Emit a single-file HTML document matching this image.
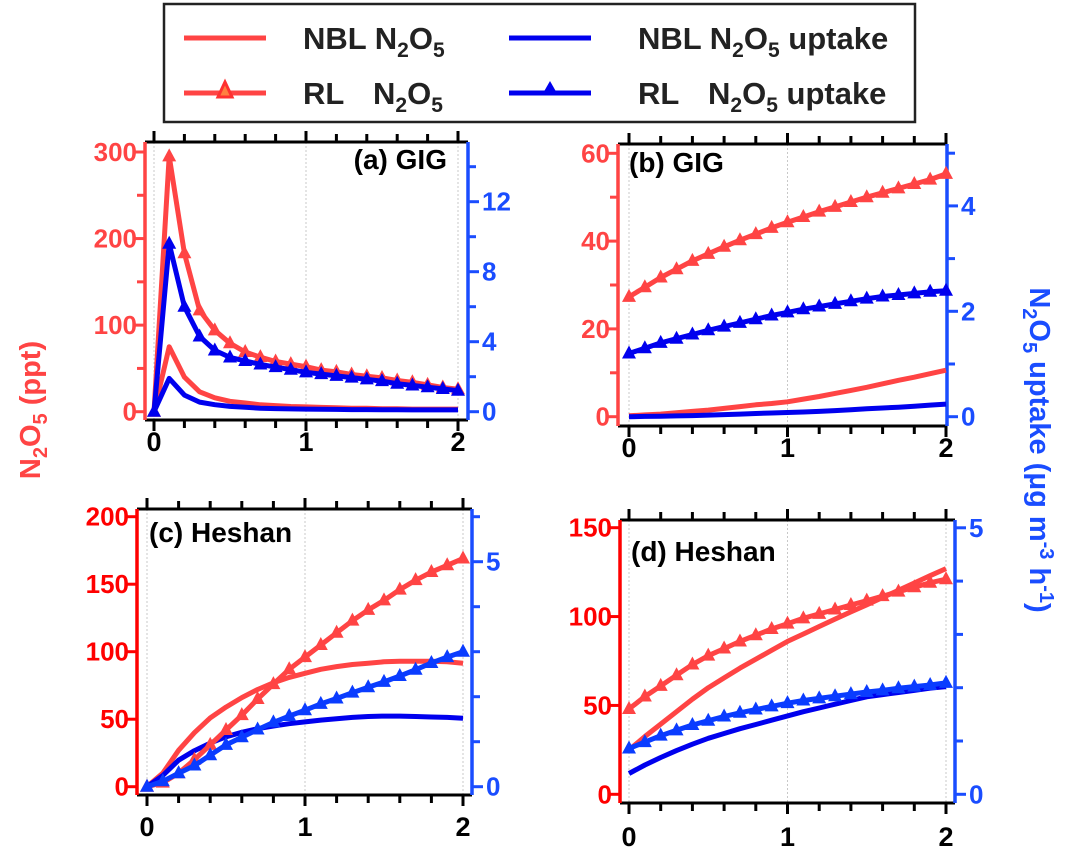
<!DOCTYPE html>
<html><head><meta charset="utf-8"><style>
html,body{margin:0;padding:0;background:#fff;}
svg{display:block;font-family:"Liberation Sans",Arial,sans-serif;font-weight:bold;}
</style></head><body>
<svg id="chart" width="1066" height="865" viewBox="0 0 1066 865" xmlns="http://www.w3.org/2000/svg">
<g>
  <rect x="164" y="4" width="751" height="118" fill="#fff" stroke="#222" stroke-width="2.5"/>
  <line x1="184" y1="38" x2="266" y2="38" stroke="#ff4444" stroke-width="5"/>
  <text x="303" y="49" font-size="31" fill="#222">NBL N<tspan font-size="21" dy="8">2</tspan><tspan dy="-8">O</tspan><tspan font-size="21" dy="8">5</tspan></text>
  <line x1="184" y1="93" x2="266" y2="93" stroke="#ff4444" stroke-width="5"/>
  <polygon points="225,82 218,97 232,97" fill="#ff8040" stroke="#ff3030" stroke-width="3"/>
  <text x="303" y="104" font-size="31" fill="#222">RL<tspan x="373">N</tspan><tspan font-size="21" dy="8">2</tspan><tspan dy="-8">O</tspan><tspan font-size="21" dy="8">5</tspan></text>
  <line x1="509" y1="38" x2="591" y2="38" stroke="#0000ee" stroke-width="5"/>
  <text x="638" y="49" font-size="31" fill="#222">NBL N<tspan font-size="21" dy="8">2</tspan><tspan dy="-8">O</tspan><tspan font-size="21" dy="8">5</tspan><tspan dy="-8"> uptake</tspan></text>
  <line x1="509" y1="93" x2="591" y2="93" stroke="#0000ee" stroke-width="5"/>
  <polygon points="550,81 542,95 558,95" fill="#0000ee"/>
  <text x="638" y="104" font-size="31" fill="#222">RL<tspan x="708">N</tspan><tspan font-size="21" dy="8">2</tspan><tspan dy="-8">O</tspan><tspan font-size="21" dy="8">5</tspan><tspan dy="-8"> uptake</tspan></text>
</g>
<text transform="translate(40,410) rotate(-90)" text-anchor="middle" font-size="29" fill="#ff4444">N<tspan font-size="20" dy="7">2</tspan><tspan dy="-7">O</tspan><tspan font-size="20" dy="7">5</tspan><tspan dy="-7"> (ppt)</tspan></text>
<text transform="translate(1030,450) rotate(90)" text-anchor="middle" font-size="29" fill="#1a4dff">N<tspan font-size="20" dy="7">2</tspan><tspan dy="-7">O</tspan><tspan font-size="20" dy="7">5</tspan><tspan dy="-7"> uptake (μg m</tspan><tspan font-size="20" dy="-10">-3</tspan><tspan dy="10"> h</tspan><tspan font-size="20" dy="-10">-1</tspan><tspan dy="10">)</tspan></text>
</svg>
<script>
const xs = [0,0.1,0.2,0.3,0.4,0.5,0.6,0.7,0.8,0.9,1.0,1.1,1.2,1.3,1.4,1.5,1.6,1.7,1.8,1.9,2.0];
const xTickLabels = ["0","1","2"];
// Panel a (GIG)
const aRedRL = [0,295,183,117,94,79,69,63,58,55,52,48,46,43,41,39,36,34,31,28,26];
const aBlueRL = [0,9.6,6.0,4.3,3.5,3.1,2.9,2.7,2.55,2.4,2.25,2.15,2.05,1.95,1.85,1.75,1.6,1.5,1.4,1.3,1.2];
const aRedNBL = [0,75,40,23,16,12,10,8,7,6,5.5,5,4.5,4,4,3.5,3.5,3,3,3,3];
const aBlueNBL = [0,1.9,0.95,0.55,0.4,0.3,0.25,0.2,0.18,0.16,0.15,0.14,0.13,0.12,0.12,0.11,0.11,0.1,0.1,0.1,0.1];
const aLeftTicks = [0,100,200,300];
const aRightTicks = [0,4,8,12];
// Panel b (GIG)
const bRedRL = [27.3,29.5,31.7,33.6,35.5,37.1,38.7,40.2,41.6,43,44.3,45.5,46.7,47.8,48.9,50,51,52,53,54,55.3];
const bBlueRL = [1.2,1.3,1.4,1.48,1.56,1.64,1.71,1.78,1.85,1.92,1.98,2.04,2.09,2.14,2.19,2.24,2.28,2.31,2.34,2.37,2.39];
const bRedNBL = [0.2,0.4,0.6,0.9,1.2,1.5,1.9,2.3,2.7,3.0,3.4,4,4.6,5.3,6,6.7,7.5,8.3,9,9.8,10.6];
const bBlueNBL = [0,0.005,0.01,0.015,0.02,0.03,0.04,0.05,0.06,0.07,0.08,0.09,0.1,0.115,0.13,0.15,0.165,0.18,0.2,0.22,0.24];
const bLeftTicks = [0,20,40,60];
const bRightTicks = [0,2,4];
// Panel c (Heshan)
const cRedRL = [0,3,10,20,31,42,53,65,76,87,96,105,114,123,131,138,146,153,159,164,169];
const cBlueRL = [0,0.12,0.3,0.47,0.7,0.93,1.1,1.27,1.43,1.57,1.7,1.84,1.96,2.09,2.21,2.33,2.46,2.6,2.75,2.88,3.0];
const cRedNBL = [0,10,27,40,51,59,66,72,77,81,84,87,89,90.5,91.5,92.5,93,93,93,92.5,91.5];
const cBlueNBL = [0,0.25,0.59,0.8,0.97,1.11,1.21,1.29,1.35,1.4,1.44,1.48,1.51,1.54,1.56,1.57,1.57,1.56,1.55,1.54,1.52];
const cLeftTicks = [0,50,100,150,200];
const cRightTicks = [0,5];
// Panel d (Heshan)
const dRedRL = [48,55,61,67,73,78,82,86,89.5,93,96,99,101.5,104,106.5,109,111.5,114,116.5,119,121];
const dBlueRL = [0.86,0.98,1.1,1.2,1.3,1.38,1.46,1.53,1.59,1.65,1.71,1.76,1.8,1.84,1.88,1.92,1.95,1.99,2.02,2.05,2.09];
const dRedNBL = [25,32.5,39.5,46.5,53.5,60,65.5,71,76,81,86,90.2,94.4,98.6,102.7,106.6,110.7,114.8,118.9,123,127];
const dBlueNBL = [0.39,0.55,0.69,0.82,0.94,1.05,1.14,1.23,1.31,1.39,1.47,1.55,1.62,1.69,1.76,1.83,1.87,1.91,1.95,1.99,2.02];
const dLeftTicks = [0,50,100,150];
const dRightTicks = [0,5];

const NS="http://www.w3.org/2000/svg";
const svg=document.getElementById('chart');
function mk(tag,attrs,parent){const e=document.createElementNS(NS,tag);for(const k in attrs)e.setAttribute(k,attrs[k]);(parent||svg).appendChild(e);return e;}

const panels=[
 {id:'a',title:'(a) GIG',tx:447,ty:169,anchor:'end',L:145,R:468,T:142,B:420,x0:154,x2:458,y0:411.7,lPer:259.7/300,rPer:17.5,lMinor:50,rMinor:2,lMax:300,rMax:14,leftCol:'#ff4444',
  redRL:aRedRL,blueRL:aBlueRL,redNBL:aRedNBL,blueNBL:aBlueNBL,lt:aLeftTicks,rt:aRightTicks,xl:451},
 {id:'b',title:'(b) GIG',tx:629,ty:172,anchor:'start',L:618,R:947,T:144,B:426,x0:629,x2:946,y0:416.7,lPer:263.4/60,rPer:52.7,lMinor:10,rMinor:1,lMax:60,rMax:5,leftCol:'#ff4444',
  redRL:bRedRL,blueRL:bBlueRL,redNBL:bRedNBL,blueNBL:bBlueNBL,lt:bLeftTicks,rt:bRightTicks,xl:457},
 {id:'c',title:'(c) Heshan',tx:149,ty:542,anchor:'start',L:137,R:472,T:509,B:795,x0:147,x2:463,y0:786.7,lPer:270/200,rPer:45,lMinor:50,rMinor:1,lMax:200,rMax:6,leftCol:'#ff0000',
  redRL:cRedRL,blueRL:cBlueRL,redNBL:cRedNBL,blueNBL:cBlueNBL,lt:cLeftTicks,rt:cRightTicks,xl:836},
 {id:'d',title:'(d) Heshan',tx:631,ty:561,anchor:'start',L:620,R:955,T:520,B:803,x0:629,x2:946,y0:794.3,lPer:266.6/150,rPer:53.3,lMinor:50,rMinor:1,lMax:150,rMax:5,leftCol:'#ff0000',
  redRL:dRedRL,blueRL:dBlueRL,redNBL:dRedNBL,blueNBL:dBlueNBL,lt:dLeftTicks,rt:dRightTicks,xl:846}
];
const RED='#ff4444', BLUE='#0000ee', RAX='#1a4dff';

panels.forEach(p=>{
  const g=mk('g',{});
  
  
  const X=v=>p.x0+(p.x2-p.x0)*v/2;
  const YL=v=>p.y0-v*p.lPer;
  const YR=v=>p.y0-v*p.rPer;
  [0,1,2].forEach(v=>{const l=mk('line',{x1:X(v),x2:X(v),y1:p.T,y2:p.B,stroke:'#c8c8c8','stroke-width':1,'stroke-dasharray':'2,2'},g);
    });
  const ft=mk('line',{x1:p.L,x2:p.R,y1:p.T,y2:p.T,stroke:'#000','stroke-width':3},g);
  
  const fb=mk('line',{x1:p.L,x2:p.R,y1:p.B,y2:p.B,stroke:'#000','stroke-width':3},g);
  
  for(let i=0;i<=10;i++){const v=i*0.2;const major=(i%5===0);const len=major?11:8;
    const t1=mk('line',{x1:X(v),x2:X(v),y1:p.B,y2:p.B+len,stroke:'#000','stroke-width':3},g);
    
    const t2=mk('line',{x1:X(v),x2:X(v),y1:p.T,y2:p.T-len,stroke:'#000','stroke-width':3},g);
    }
  xTickLabels.forEach((s,i)=>{const t=mk('text',{x:X(i),y:p.xl,'text-anchor':'middle','font-size':27,fill:'#000'},g);t.textContent=s;
    });
  const la=mk('line',{x1:p.L,x2:p.L,y1:p.T,y2:p.B,stroke:p.leftCol,'stroke-width':3.5},g);
  
  for(let v=0;v<=p.lMax+0.001;v+=p.lMinor){const major=p.lt.includes(v);
    const t=mk('line',{x1:p.L,x2:p.L-(major?11:8),y1:YL(v),y2:YL(v),stroke:p.leftCol,'stroke-width':3},g);
    }
  p.lt.forEach(v=>{const t=mk('text',{x:p.L-8,y:YL(v)+9,'text-anchor':'end','font-size':26,fill:p.leftCol},g);t.textContent=v;
    });
  const ra=mk('line',{x1:p.R,x2:p.R,y1:p.T,y2:p.B,stroke:RAX,'stroke-width':3.5},g);
  
  for(let v=0;v<=p.rMax+0.001;v+=p.rMinor){if(YR(v)<p.T)break;const major=p.rt.includes(v);
    const t=mk('line',{x1:p.R,x2:p.R+(major?11:8),y1:YR(v),y2:YR(v),stroke:RAX,'stroke-width':3},g);
    }
  p.rt.forEach(v=>{const t=mk('text',{x:p.R+14,y:YR(v)+9,'text-anchor':'start','font-size':26,fill:RAX},g);t.textContent=v;
    });
  const line=(arr,Y,col,name)=>{const pts=arr.map((v,i)=>X(xs[i]).toFixed(1)+','+Y(v).toFixed(1)).join(' ');
    const pl=mk('polyline',{points:pts,fill:'none',stroke:col,'stroke-width':5,'stroke-linejoin':'round'},g);
    };
  const tris=(arr,Y,col,name)=>{arr.forEach((v,i)=>{const x=X(xs[i]),y=Y(v);
    const tr=mk('polygon',{points:`${x},${y-8} ${x-7},${y+5} ${x+7},${y+5}`,fill:col},g);
    });};
  line(p.redNBL,YL,RED,'nbl-n2o5-line');
  line(p.blueNBL,YR,BLUE,'nbl-uptake-line');
  line(p.redRL,YL,RED,'rl-n2o5-line');tris(p.redRL,YL,RED,'rl-n2o5-marker');
  const bcol=(p.id==='c'||p.id==='d')?'#0a3cff':BLUE;
  line(p.blueRL,YR,bcol,'rl-uptake-line');tris(p.blueRL,YR,bcol,'rl-uptake-marker');
  const tt=mk('text',{x:p.tx,y:p.ty,'text-anchor':p.anchor,'font-size':28,fill:'#000'},g);tt.textContent=p.title;
  
});
</script>
</body></html>
